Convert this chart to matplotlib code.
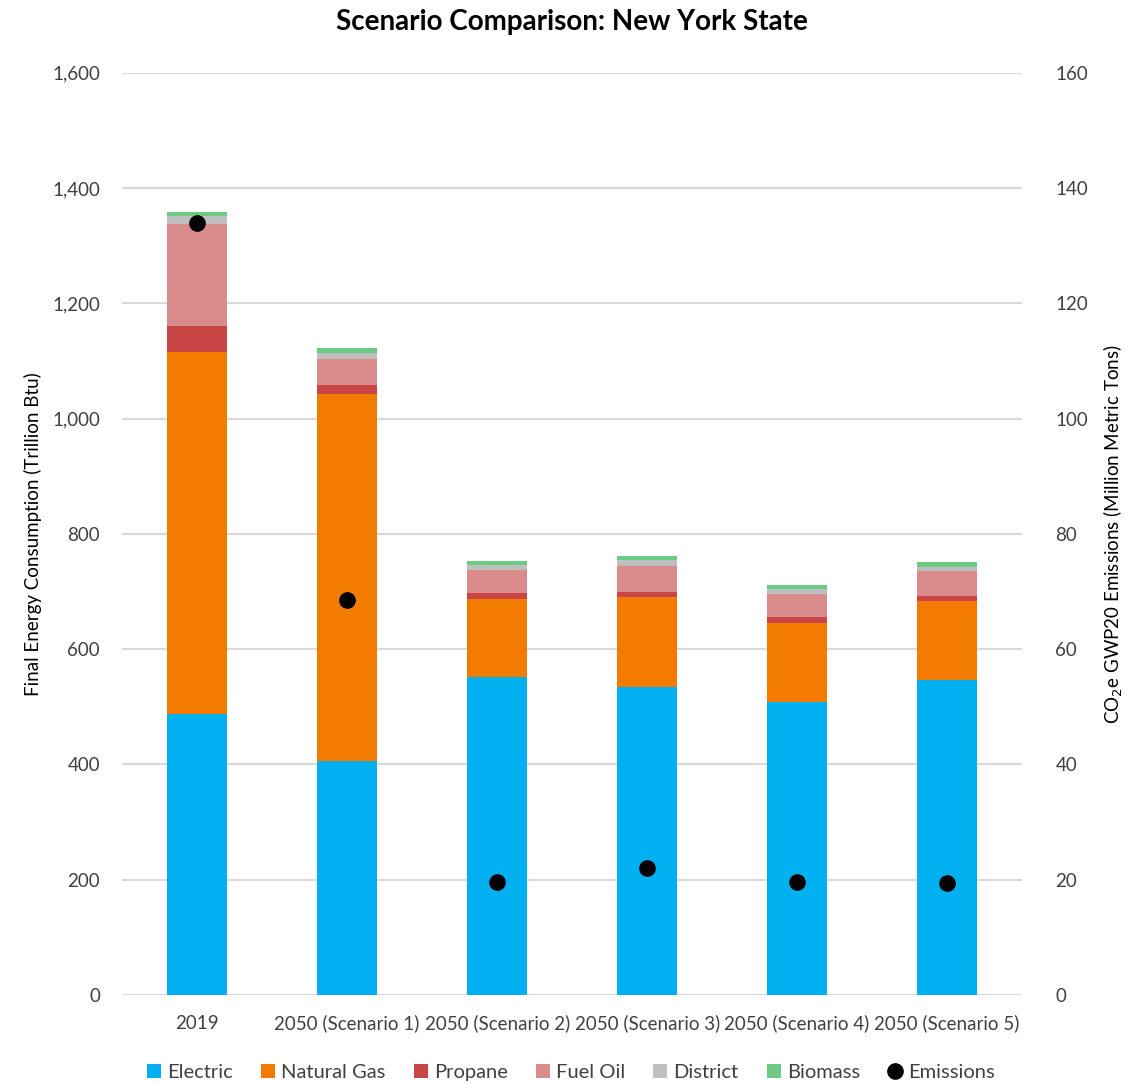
import matplotlib.pyplot as plt
import numpy as np
from matplotlib.ticker import FuncFormatter
from matplotlib.lines import Line2D
from matplotlib.patches import Patch

plt.rcParams['font.family'] = ['Lato', 'DejaVu Sans']

scenarios = ['2019', '2050 (Scenario 1)', '2050 (Scenario 2)', '2050 (Scenario 3)',
             '2050 (Scenario 4)', '2050 (Scenario 5)']
# segment values, Trillion Btu
electric = [488, 406, 552, 534, 509, 547]
natural_gas = [628, 636, 135, 156, 136, 136]
propane = [44, 16, 11, 10, 11, 10]
fuel_oil = [178, 46, 39, 45, 39, 42]
district = [13, 9, 9, 10, 9, 8]
biomass = [8, 9, 7, 7, 7, 8]
# CO2e GWP20, million metric tons
emissions = [134, 68.6, 19.7, 22.1, 19.7, 19.4]

series = [('Electric', electric, '#00B0F0'),
          ('Natural Gas', natural_gas, '#F27B00'),
          ('Propane', propane, '#C84646'),
          ('Fuel Oil', fuel_oil, '#DA8B8B'),
          ('District', district, '#BFBFBF'),
          ('Biomass', biomass, '#6CCB82')]

fig = plt.figure(figsize=(11.42, 10.84), dpi=100)
ax = fig.add_axes([0.107, 0.082, 0.788, 0.851])
ax2 = ax.twinx()

x = np.arange(len(scenarios))
bottom = np.zeros(len(scenarios))
handles = []
for name, vals, col in series:
    ax.bar(x, vals, 0.4, bottom=bottom, color=col, zorder=2)
    bottom += np.array(vals)
    handles.append(Patch(facecolor=col, label=name))

ax2.plot(x, emissions, 'o', color='black', markersize=11, zorder=5)
handles.append(Line2D([], [], marker='o', color='black', linestyle='none',
                      markersize=11, label='Emissions'))

ax.set_xlim(-0.5, 5.5)
ax.set_ylim(0, 1600)
ax2.set_ylim(0, 160)
ax.set_yticks(range(0, 1601, 200))
ax2.set_yticks(range(0, 161, 20))
ax.yaxis.set_major_formatter(FuncFormatter(lambda v, p: f'{int(v):,}'))
ax.grid(axis='y', color='#D9D9D9', linewidth=1.5, zorder=0)
ax.set_axisbelow(True)

ax.set_xticks(x)
ax.set_xticklabels(scenarios)
for a in (ax, ax2):
    for s in a.spines.values():
        s.set_visible(False)
    a.tick_params(length=0, labelsize=13.5, colors='#404040', pad=8)
ax.tick_params(axis='y', pad=16)
ax2.tick_params(axis='y', pad=24)
ax.tick_params(axis='x', pad=14)

ax.set_ylabel('Final Energy Consumption (Trillion Btu)', fontsize=13.5, color='black', labelpad=7)
ax2.set_ylabel('CO$_2$e GWP20 Emissions (Million Metric Tons)', fontsize=13.5, color='black', labelpad=10)
ax.set_title('Scenario Comparison: New York State', fontsize=20, fontweight='bold', pad=31)

fig.legend(handles=handles, loc='lower center', ncol=7, frameon=False, fontsize=14.5,
           bbox_to_anchor=(0.5, -0.014), handlelength=0.7, handleheight=0.7,
           handletextpad=0.3, columnspacing=1.4, labelcolor='#404040')

fig.savefig('out.png', dpi=100)
